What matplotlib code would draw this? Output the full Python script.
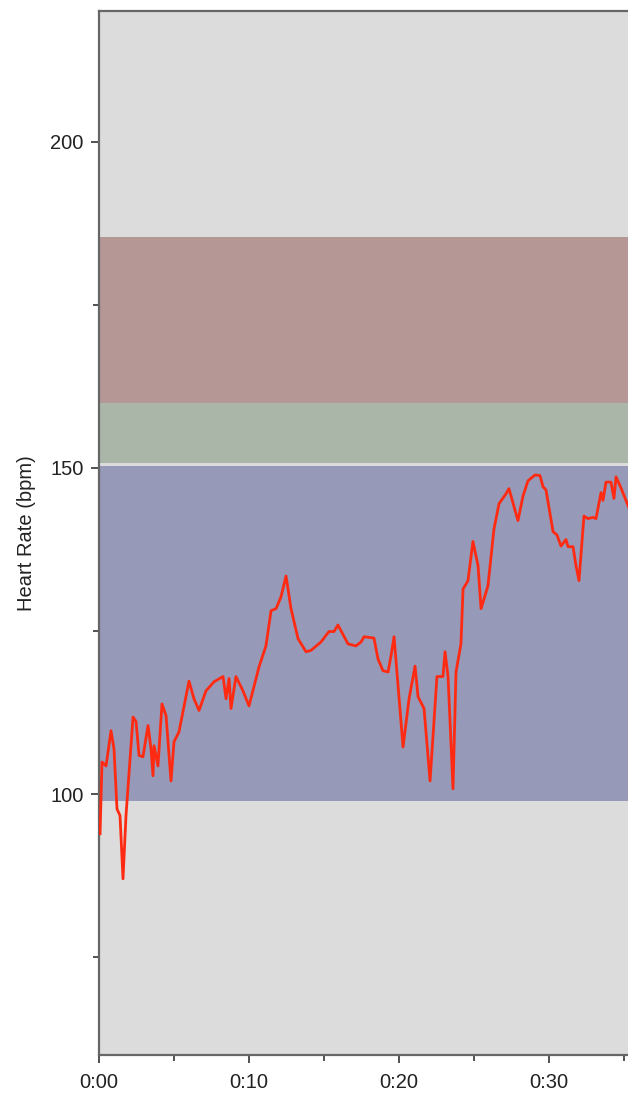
import matplotlib
matplotlib.use("Agg")
import matplotlib.pyplot as plt
from matplotlib.ticker import FuncFormatter, MultipleLocator

# elapsed time (minutes) and heart rate (bpm)
minutes = [0.07, 0.2, 0.47, 0.8, 1.0, 1.2, 1.4, 1.6, 1.8, 2.27, 2.47, 2.67, 2.93,
           3.27, 3.47, 3.6, 3.67, 3.93, 4.2, 4.47, 4.8, 5.0, 5.33, 6.0, 6.33, 6.67,
           7.13, 7.67, 8.27, 8.47, 8.67, 8.8, 9.13, 9.6, 10.0, 10.67, 11.13, 11.47,
           11.8, 12.13, 12.47, 12.8, 13.27, 13.8, 14.13, 14.8, 15.33, 15.67, 15.93,
           16.6, 17.13, 17.47, 17.67, 18.33, 18.6, 18.93, 19.27, 19.47, 19.67, 20.27,
           20.67, 21.07, 21.27, 21.67, 22.07, 22.53, 22.93, 23.07, 23.27, 23.6, 23.8,
           24.13, 24.27, 24.6, 24.93, 25.27, 25.47, 25.93, 26.33, 26.67, 27.13, 27.33,
           27.93, 28.27, 28.6, 29.07, 29.4, 29.6, 29.8, 30.27, 30.53, 30.8, 31.13,
           31.27, 31.6, 31.8, 32.0, 32.33, 32.6, 32.93, 33.13, 33.47, 33.6, 33.8,
           34.13, 34.33, 34.47, 34.8, 35.27, 35.6]
heart_rate = [93.9, 104.9, 104.3, 109.7, 106.9, 97.7, 96.7, 87.0, 96.7, 111.8, 111.1,
              105.9, 105.7, 110.5, 106.9, 102.8, 107.4, 104.3, 113.8, 112.0, 102.0,
              108.0, 109.5, 117.3, 114.6, 112.8, 115.8, 117.2, 118.0, 114.6, 117.7,
              113.1, 118.0, 115.8, 113.5, 119.5, 122.7, 128.1, 128.4, 130.2, 133.4,
              128.4, 123.8, 121.8, 122.0, 123.3, 124.9, 124.9, 125.9, 123.0, 122.7,
              123.3, 124.1, 123.9, 120.7, 118.9, 118.7, 121.2, 124.1, 107.2, 114.6,
              119.6, 114.9, 113.1, 102.0, 118.0, 118.0, 121.8, 118.0, 100.8, 118.7,
              123.0, 131.4, 132.7, 138.7, 135.0, 128.4, 131.9, 140.6, 144.5, 146.0,
              146.8, 141.9, 145.7, 148.0, 148.9, 148.8, 147.1, 146.6, 140.2, 139.7,
              138.0, 139.0, 137.9, 137.9, 135.0, 132.7, 142.6, 142.2, 142.4, 142.2,
              146.2, 145.0, 147.8, 147.8, 145.3, 148.6, 146.9, 144.2, 142.2]

# heart rate zones (low, high, colour)
zone_low = [99, 150.7, 160]
zone_high = [150.2, 160, 185.4]
zone_colors = ["#9799b8", "#a9b6a8", "#b59895"]

plt.rcParams["font.family"] = ["Liberation Sans", "DejaVu Sans"]

fig = plt.figure(figsize=(6.28, 10.95), dpi=100)
ax = fig.add_axes([99 / 628, 40 / 1095, 541 / 628, 1044 / 1095])
ax.set_facecolor("#dcdcdc")

for lo, hi, c in zip(zone_low, zone_high, zone_colors):
    ax.axhspan(lo, hi, color=c, lw=0, zorder=1)

ax.plot(minutes, heart_rate, color="#ff2a12", lw=2.0, zorder=3)

ax.set_xlim(0, 541 / 15)
ax.set_ylim(60, 220)

ax.yaxis.set_major_locator(MultipleLocator(50))
ax.yaxis.set_minor_locator(MultipleLocator(25))
ax.xaxis.set_major_locator(MultipleLocator(10))
ax.xaxis.set_minor_locator(MultipleLocator(5))
ax.xaxis.set_major_formatter(FuncFormatter(lambda m, _: f"{int(m // 60)}:{int(m % 60):02d}"))

ax.tick_params(which="both", direction="out", colors="#333333", labelcolor="#222222",
               labelsize=14.5, width=1.2)
ax.tick_params(which="major", length=6)
ax.tick_params(which="minor", length=4)
ax.tick_params(axis="y", pad=5)
ax.tick_params(axis="x", pad=7)

for s in ax.spines.values():
    s.set_color("#666666")
    s.set_linewidth(1.6)

ax.set_ylabel("Heart Rate (bpm)", fontsize=14.5, color="#222222", labelpad=10)

fig.savefig("out.png", dpi=100)
